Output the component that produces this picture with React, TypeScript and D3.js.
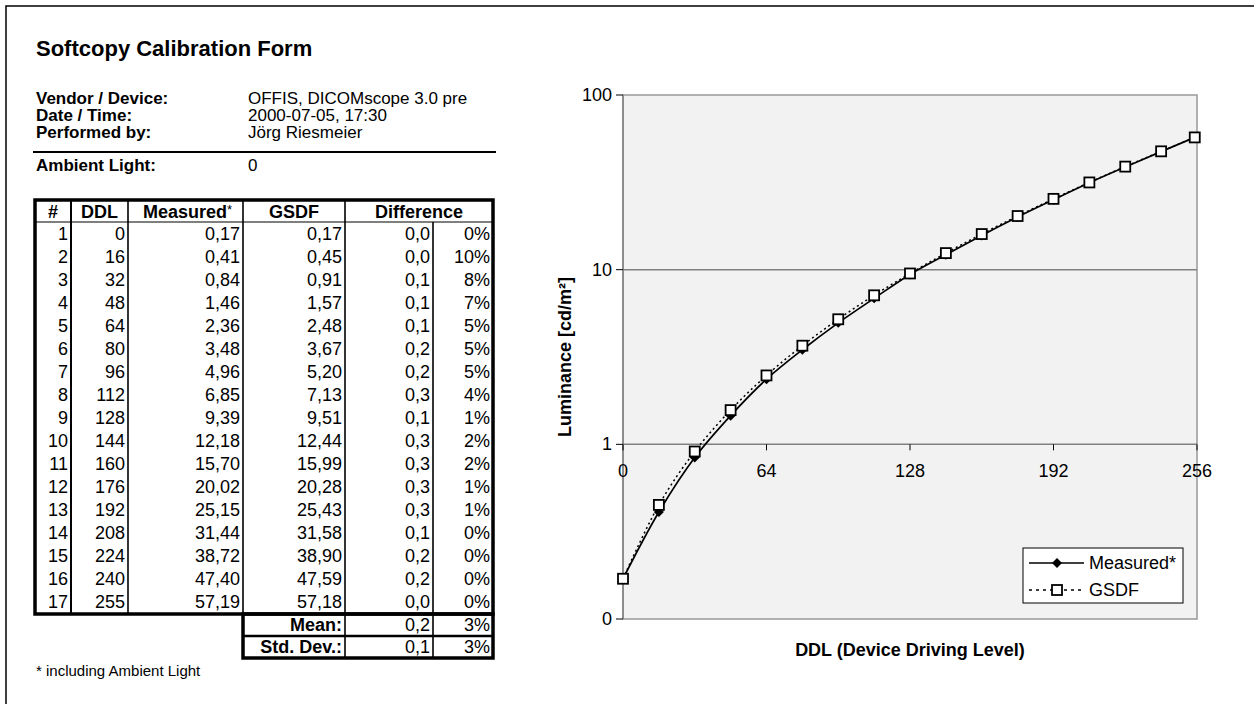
import React from 'react';
import * as d3 from 'd3';

const infoLabels = ['Vendor / Device:', 'Date / Time:', 'Performed by:', 'Ambient Light:'];
const infoValues = ['OFFIS, DICOMscope 3.0 pre', '2000-07-05, 17:30', 'Jörg Riesmeier', '0'];

const ddl = [0, 16, 32, 48, 64, 80, 96, 112, 128, 144, 160, 176, 192, 208, 224, 240, 255];
const measured = [0.17, 0.41, 0.84, 1.46, 2.36, 3.48, 4.96, 6.85, 9.39, 12.18, 15.7, 20.02, 25.15, 31.44, 38.72, 47.4, 57.19];
const gsdf = [0.17, 0.45, 0.91, 1.57, 2.48, 3.67, 5.2, 7.13, 9.51, 12.44, 15.99, 20.28, 25.43, 31.58, 38.9, 47.59, 57.18];
const diffAbs = [0.0, 0.0, 0.1, 0.1, 0.1, 0.2, 0.2, 0.3, 0.1, 0.3, 0.3, 0.3, 0.3, 0.1, 0.2, 0.2, 0.0];
const diffPct = [0, 10, 8, 7, 5, 5, 5, 4, 1, 2, 2, 1, 1, 0, 0, 0, 0];
const summaryLabels = ['Mean:', 'Std. Dev.:'];
const summaryAbs = [0.2, 0.1];
const summaryPct = [3, 3];

const xTicks = [0, 64, 128, 192, 256];
const yTicks = [100, 10, 1, 0.1];
const yTickLabels = ['100', '10', '1', '0'];

const FONT = '"Liberation Sans", Arial, sans-serif';

const fmt = (v: number, d: number) => v.toFixed(d).replace('.', ',');

function App() {
  // table geometry
  const colX = [35, 71, 128, 243, 345, 433, 493];
  const tTop = 200;
  const headBottom = 222;
  const bodyBottom = 614;
  const rowH = (bodyBottom - headBottom) / ddl.length;
  const sumH = 22;

  // chart
  const x = d3.scaleLinear().domain([0, 256]).range([623, 1197]);
  const y = d3.scaleLog().domain([0.1, 100]).range([619, 95]);
  const line = d3
    .line<number>()
    .x((_, i) => x(ddl[i]))
    .y((d) => y(d))
    .curve(d3.curveCatmullRom);

  const diamond = (cx: number, cy: number, r: number) =>
    `M${cx},${cy - r}L${cx + r},${cy}L${cx},${cy + r}L${cx - r},${cy}Z`;

  const rowY = (i: number) => headBottom + rowH * (i + 0.5);
  const infoY = [98, 115, 132, 165];

  return (
    <svg width={1254} height={704} style={{ position: 'absolute', left: 0, top: 0, background: '#fff' }} fontFamily={FONT}>
      <rect x={6} y={6} width={1300} height={800} fill="none" stroke="#000" strokeWidth={1.5} />

      <text x={36} y={48} fontSize={22} fontWeight="bold" dominantBaseline="central">
        Softcopy Calibration Form
      </text>

      {infoLabels.map((l, i) => (
        <g key={l}>
          <text x={36} y={infoY[i]} fontSize={17} fontWeight="bold" dominantBaseline="central" textLength={i === 3 ? undefined : undefined}>{l}</text>
          <text x={248} y={infoY[i]} fontSize={17} dominantBaseline="central">{infoValues[i]}</text>
        </g>
      ))}
      <line x1={33} x2={496} y1={152} y2={152} stroke="#000" strokeWidth={2} />

      {/* table */}
      <g fontSize={18}>
        {['#', 'DDL'].map((h, i) => (
          <text key={h} x={(colX[i] + colX[i + 1]) / 2} y={(tTop + headBottom) / 2 + 1} textAnchor="middle" dominantBaseline="central" fontWeight="bold">{h}</text>
        ))}
        <text x={(colX[2] + colX[3]) / 2 + 2} y={(tTop + headBottom) / 2 + 1} textAnchor="middle" dominantBaseline="central">
          <tspan fontWeight="bold">Measured</tspan>
          <tspan fontSize={13} dy={-3}>*</tspan>
        </text>
        <text x={(colX[3] + colX[4]) / 2} y={(tTop + headBottom) / 2 + 1} textAnchor="middle" dominantBaseline="central" fontWeight="bold">GSDF</text>
        <text x={(colX[4] + colX[6]) / 2} y={(tTop + headBottom) / 2 + 1} textAnchor="middle" dominantBaseline="central" fontWeight="bold">Difference</text>

        {ddl.map((d, i) => (
          <g key={i}>
            <text x={colX[1] - 3} y={rowY(i)} textAnchor="end" dominantBaseline="central">{i + 1}</text>
            <text x={colX[2] - 3} y={rowY(i)} textAnchor="end" dominantBaseline="central">{d}</text>
            <text x={colX[3] - 3} y={rowY(i)} textAnchor="end" dominantBaseline="central">{fmt(measured[i], 2)}</text>
            <text x={colX[4] - 3} y={rowY(i)} textAnchor="end" dominantBaseline="central">{fmt(gsdf[i], 2)}</text>
            <text x={colX[5] - 3} y={rowY(i)} textAnchor="end" dominantBaseline="central">{fmt(diffAbs[i], 1)}</text>
            <text x={colX[6] - 3} y={rowY(i)} textAnchor="end" dominantBaseline="central">{diffPct[i]}%</text>
          </g>
        ))}

        {summaryLabels.map((s, i) => {
          const cy = bodyBottom + sumH * (i + 0.5);
          return (
            <g key={s}>
              <text x={colX[4] - 3} y={cy} textAnchor="end" dominantBaseline="central" fontWeight="bold">{s}</text>
              <text x={colX[5] - 3} y={cy} textAnchor="end" dominantBaseline="central">{fmt(summaryAbs[i], 1)}</text>
              <text x={colX[6] - 3} y={cy} textAnchor="end" dominantBaseline="central">{summaryPct[i]}%</text>
            </g>
          );
        })}

        {/* cell borders */}
        <line x1={colX[0]} x2={colX[6]} y1={headBottom} y2={headBottom} stroke="#000" strokeWidth={1.2} />
        {[1, 2, 3, 4].map((c) => (
          <line key={c} x1={colX[c]} x2={colX[c]} y1={tTop} y2={bodyBottom} stroke="#000" strokeWidth={c === 1 ? 2 : 1.6} />
        ))}
        <line x1={colX[5]} x2={colX[5]} y1={headBottom} y2={bodyBottom + 2 * sumH} stroke="#000" strokeWidth={1.6} />
        <line x1={colX[4]} x2={colX[4]} y1={bodyBottom} y2={bodyBottom + 2 * sumH} stroke="#000" strokeWidth={1.6} />
        <rect x={colX[0]} y={tTop} width={colX[6] - colX[0]} height={bodyBottom - tTop} fill="none" stroke="#000" strokeWidth={3.5} />
        <rect x={colX[3]} y={bodyBottom} width={colX[6] - colX[3]} height={2 * sumH} fill="none" stroke="#000" strokeWidth={3.5} />
        <line x1={colX[3]} x2={colX[6]} y1={bodyBottom + sumH} y2={bodyBottom + sumH} stroke="#000" strokeWidth={2.5} />
      </g>

      <text x={36} y={670} fontSize={15} dominantBaseline="central">* including Ambient Light</text>

      {/* chart */}
      <rect x={x(0)} y={y(100)} width={x(256) - x(0)} height={y(0.1) - y(100)} fill="#f2f2f2" stroke="#999" strokeWidth={1.5} />
      {[10, 1].map((v) => (
        <line key={v} x1={x(0)} x2={x(256)} y1={y(v)} y2={y(v)} stroke="#808080" strokeWidth={1.5} />
      ))}
      <line x1={x(0)} x2={x(0)} y1={y(100)} y2={y(0.1)} stroke="#808080" strokeWidth={1.5} />
      {yTicks.map((v, i) => (
        <g key={v}>
          <line x1={x(0) - 7} x2={x(0)} y1={y(v)} y2={y(v)} stroke="#000" strokeWidth={1} />
          <text x={612} y={y(v)} fontSize={18} textAnchor="end" dominantBaseline="central">{yTickLabels[i]}</text>
        </g>
      ))}
      {xTicks.map((v) => (
        <g key={v}>
          <line x1={x(v)} x2={x(v)} y1={y(1)} y2={y(1) + 6} stroke="#000" strokeWidth={1} />
          <text x={x(v)} y={471} fontSize={18} textAnchor="middle" dominantBaseline="central">{v}</text>
        </g>
      ))}

      <path d={line(measured) || ''} fill="none" stroke="#000" strokeWidth={1.7} />
      <path d={line(gsdf) || ''} fill="none" stroke="#000" strokeWidth={1.5} strokeDasharray="2,3" />
      {measured.map((v, i) => (
        <path key={'m' + i} d={diamond(x(ddl[i]), y(v), 5)} fill="#000" />
      ))}
      {gsdf.map((v, i) => (
        <rect key={'g' + i} x={x(ddl[i]) - 5} y={y(v) - 5} width={10} height={10} fill="#fff" stroke="#000" strokeWidth={1.8} />
      ))}

      <text transform={`translate(565,357) rotate(-90)`} fontSize={18} fontWeight="bold" textAnchor="middle" dominantBaseline="central">
        Luminance [cd/m²]
      </text>
      <text x={910} y={650} fontSize={18} fontWeight="bold" textAnchor="middle" dominantBaseline="central">
        DDL (Device Driving Level)
      </text>

      {/* legend */}
      <rect x={1023} y={548} width={160} height={55} fill="#fff" stroke="#000" strokeWidth={1} />
      <line x1={1029} x2={1084} y1={563} y2={563} stroke="#000" strokeWidth={1.7} />
      <path d={diamond(1057, 563, 5)} fill="#000" />
      <text x={1089} y={563} fontSize={18} dominantBaseline="central">Measured*</text>
      <line x1={1029} x2={1084} y1={590} y2={590} stroke="#000" strokeWidth={1.5} strokeDasharray="3,4" />
      <rect x={1052} y={585} width={10} height={10} fill="#fff" stroke="#000" strokeWidth={1.8} />
      <text x={1089} y={590} fontSize={18} dominantBaseline="central">GSDF</text>
    </svg>
  );
}

export default App;
